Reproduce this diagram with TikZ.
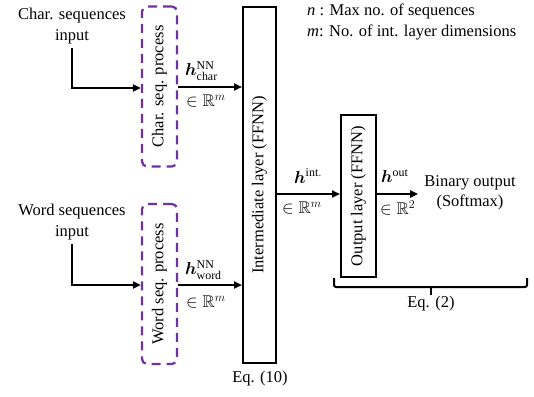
\documentclass[tikz,border=0pt]{standalone}
\usepackage{amsmath,amssymb,bm}
\usepackage{fontspec}
\setmainfont{Liberation Serif}
\usetikzlibrary{arrows.meta,calc}
\definecolor{procpurple}{HTML}{7030A0}
\begin{document}
\begin{tikzpicture}[x=1pt,y=-1pt,
  every node/.style={font=\fontsize{16.5}{20.5}\selectfont, inner sep=0pt},
  procbox/.style={draw=procpurple, line width=2.2pt, dash pattern=on 9pt off 6pt, rounded corners=5pt, minimum width=35pt, minimum height=160pt},
  layerbox/.style={draw=black, line width=2pt, minimum width=33pt},
  arr/.style={line width=2pt, -{Triangle[length=8pt,width=7pt]}},
  lbl/.style={anchor=west, font=\fontsize{17}{20}\selectfont},
  txt/.style={align=center}
]
\useasboundingbox (0,0) rectangle (534,396);

% boxes
\node[procbox] (charbox) at (159.5,86.5) {\rotatebox{90}{Char. seq. process}};
\node[procbox] (wordbox) at (159.5,284) {\rotatebox{90}{Word seq. process}};
\node[layerbox, minimum height=356pt] (interm) at (259.5,185) {\rotatebox{90}{Intermediate layer (FFNN)}};
\node[layerbox, minimum width=35pt, minimum height=162pt] (outbox) at (358.5,196) {\rotatebox{90}{Output layer (FFNN)}};

% inputs
\node[txt] (charin) at (72,26) {Char. sequences\\input};
\node[txt] (wordin) at (72,222) {Word sequences\\input};
\node[txt, inner sep=6pt] (binout) at (470,193) {Binary output\\(Softmax)};

% arrows
\draw[arr] ([yshift=-4pt]charin.south) |- (charbox.west |- 0,88);
\draw[arr] ([yshift=-4pt]wordin.south) |- (wordbox.west |- 0,285);
\draw[arr] (charbox.east |- 0,87) -- (interm.west |- 0,87);
\draw[arr] (wordbox.east |- 0,285) -- (interm.west |- 0,285);
\draw[arr] (interm.east |- 0,194) -- (outbox.west |- 0,194);
\draw[arr] (outbox.east |- 0,194) -- (binout.west |- 0,194);

% labels
\node[lbl] (hchar) at (185,71) {$\bm{h}^{\mathrm{NN}}_{\mathrm{char}}$};
\node[lbl] (rchar) at (186,101) {$\in\mathbb{R}^{m}$};
\node[lbl] (hword) at (185,270) {$\bm{h}^{\mathrm{NN}}_{\mathrm{word}}$};
\node[lbl] (rword) at (186,302) {$\in\mathbb{R}^{m}$};
\node[lbl] (hint) at (294,176) {$\bm{h}^{\mathrm{int.}}$};
\node[lbl] (rint) at (282,208) {$\in\mathbb{R}^{m}$};
\node[lbl] (hout) at (381,176) {$\bm{h}^{\mathrm{out}}$};
\node[lbl] (rout) at (380,208) {$\in\mathbb{R}^{2}$};

% bracket
\coordinate (bl) at (334,278);
\coordinate (br) at (527,278);
\coordinate (bm) at (431,287);
\draw[line width=2pt, rounded corners=2pt] (bl) -- (334,287) -- (527,287) -- (br);
\draw[line width=2.5pt] (bm) -- ++(0,8);
\node (eq2) at (431,304) {Eq. (2)};
\node (eq10) at (260,379) {Eq. (10)};

% legend
\node[anchor=west] (legn) at (307,11) {\textit{n} : Max no. of sequences};
\node[anchor=west] (legm) at (307,32) {\textit{m}: No. of int. layer dimensions};
\end{tikzpicture}
\end{document}
